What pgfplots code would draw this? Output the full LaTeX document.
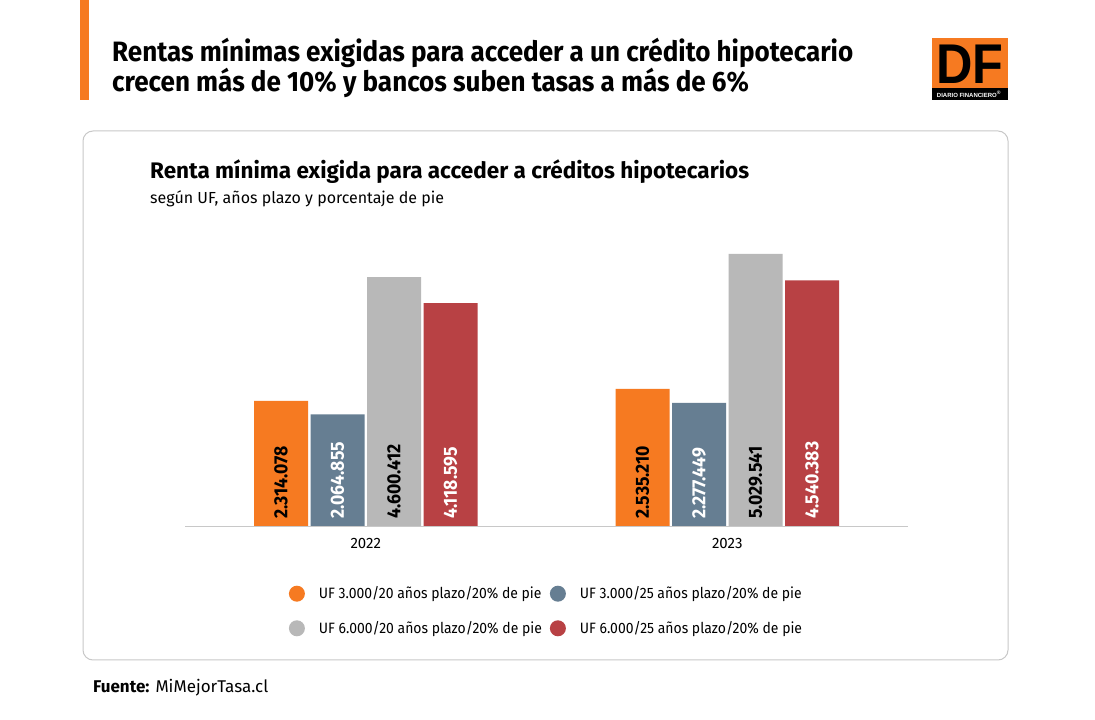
\documentclass[border=0pt]{standalone}
\usepackage{fontspec}
\setmainfont{Fira Sans}
\newfontfamily\condfont[FakeStretch=0.93]{Fira Sans}
\newfontfamily\logofont{Liberation Sans}
\usepackage{pgfplots}
\pgfplotsset{compat=1.18}

\definecolor{cOrange}{HTML}{F67A21}
\definecolor{cSlate}{HTML}{667E92}
\definecolor{cGray}{HTML}{B8B8B8}
\definecolor{cRed}{HTML}{B84144}
\definecolor{cFrame}{HTML}{C8C8C8}

\begin{document}
\begin{tikzpicture}[x=1pt,y=1pt]
  % lienzo 1095 x 720
  \fill[white] (0,0) rectangle (1095,720);

  % barra naranja y titulo
  \fill[cOrange] (80,620) rectangle (89,720);
  \node[anchor=base west, inner sep=0pt,
        font=\condfont\bfseries\fontsize{28}{30}\selectfont]
    at (112,658) {Rentas mínimas exigidas para acceder a un crédito hipotecario};
  \node[anchor=base west, inner sep=0pt,
        font=\condfont\bfseries\fontsize{28}{30}\selectfont]
    at (112,628) {crecen más de 10\% y bancos suben tasas a más de 6\%};

  % logo DF
  \fill[cOrange] (932,632) rectangle (1008,682);
  \fill[black] (932,620) rectangle (1008,632);
  \node[anchor=base, inner sep=0pt, text depth=0pt, xscale=0.9, transform shape,
        font=\logofont\bfseries\fontsize{56}{56}\selectfont]
    at (970,636) {DF};
  \node[anchor=center, inner sep=0pt, text=white,
        font=\logofont\bfseries\fontsize{6}{6}\selectfont]
    at (969,625.5) {DIARIO FINANCIERO\textsuperscript{®}};

  % marco
  \draw[cFrame, line width=1pt, rounded corners=10pt] (83,60) rectangle (1008,589);

  \node[anchor=base west, inner sep=0pt,
        font=\bfseries\fontsize{22.5}{26}\selectfont]
    at (150,541) {Renta mínima exigida para acceder a créditos hipotecarios};
  \node[anchor=base west, inner sep=0pt, font=\fontsize{16}{19}\selectfont]
    at (150,516) {según UF, años plazo y porcentaje de pie};

  \node[anchor=base west, inner sep=0pt, font=\fontsize{17}{20}\selectfont]
    at (93,27) {\textbf{Fuente:} MiMejorTasa.cl};

  \begin{axis}[
      at={(185pt,194pt)}, anchor=south west,
      scale only axis,
      width=723pt, height=297.6pt,
      xmin=-0.5, xmax=1.5,
      ymin=0, ymax=5500000,
      ybar, bar width=54pt,
      axis x line=bottom,
      axis y line=none,
      axis line style={-, draw=cFrame},
      xtick={0,1}, xticklabels={2022,2023},
      major tick length=0pt,
      xticklabel style={font=\fontsize{15}{18}\selectfont, yshift=-9pt},
      /pgf/number format/assume math mode=true,
      legend columns=2,
      legend cell align=left,
      legend style={draw=none, at={(0.5,-0.2856)}, anchor=center,
        font=\condfont\fontsize{15}{18}\selectfont, row sep=17pt,
        /tikz/every even column/.append style={column sep=6pt},
        /tikz/every odd column/.append style={column sep=12pt}},
      legend image code/.code={\fill[#1] (0pt,0pt) circle (8pt);},
      nodes near coords style={rotate=90, anchor=west, inner sep=0pt,
        xshift=7pt, font=\condfont\bfseries\fontsize{19}{19}\selectfont},
    ]
    \addplot[fill=cOrange, draw=none, bar shift=-84.75pt] coordinates {(0,2314078) (1,2535210)};
    \addplot[fill=cSlate,  draw=none, bar shift=-28.25pt] coordinates {(0,2064855) (1,2277449)};
    \addplot[fill=cGray,   draw=none, bar shift=28.25pt]  coordinates {(0,4600412) (1,5029541)};
    \addplot[fill=cRed,    draw=none, bar shift=84.75pt]  coordinates {(0,4118595) (1,4540383)};
    \legend{UF 3.000/20 años plazo/20\% de pie, UF 3.000/25 años plazo/20\% de pie,
            UF 6.000/20 años plazo/20\% de pie, UF 6.000/25 años plazo/20\% de pie}

    % etiquetas en la base de cada barra
    \addplot[forget plot, draw=none, fill=none, bar shift=-84.75pt, point meta=explicit symbolic,
      nodes near coords, every node near coord/.append style={text=black}]
      coordinates {(0,0) [2.314.078] (1,0) [2.535.210]};
    \addplot[forget plot, draw=none, fill=none, bar shift=-28.25pt, point meta=explicit symbolic,
      nodes near coords, every node near coord/.append style={text=white}]
      coordinates {(0,0) [2.064.855] (1,0) [2.277.449]};
    \addplot[forget plot, draw=none, fill=none, bar shift=28.25pt, point meta=explicit symbolic,
      nodes near coords, every node near coord/.append style={text=black}]
      coordinates {(0,0) [4.600.412] (1,0) [5.029.541]};
    \addplot[forget plot, draw=none, fill=none, bar shift=84.75pt, point meta=explicit symbolic,
      nodes near coords, every node near coord/.append style={text=white}]
      coordinates {(0,0) [4.118.595] (1,0) [4.540.383]};
  \end{axis}
\end{tikzpicture}
\end{document}
